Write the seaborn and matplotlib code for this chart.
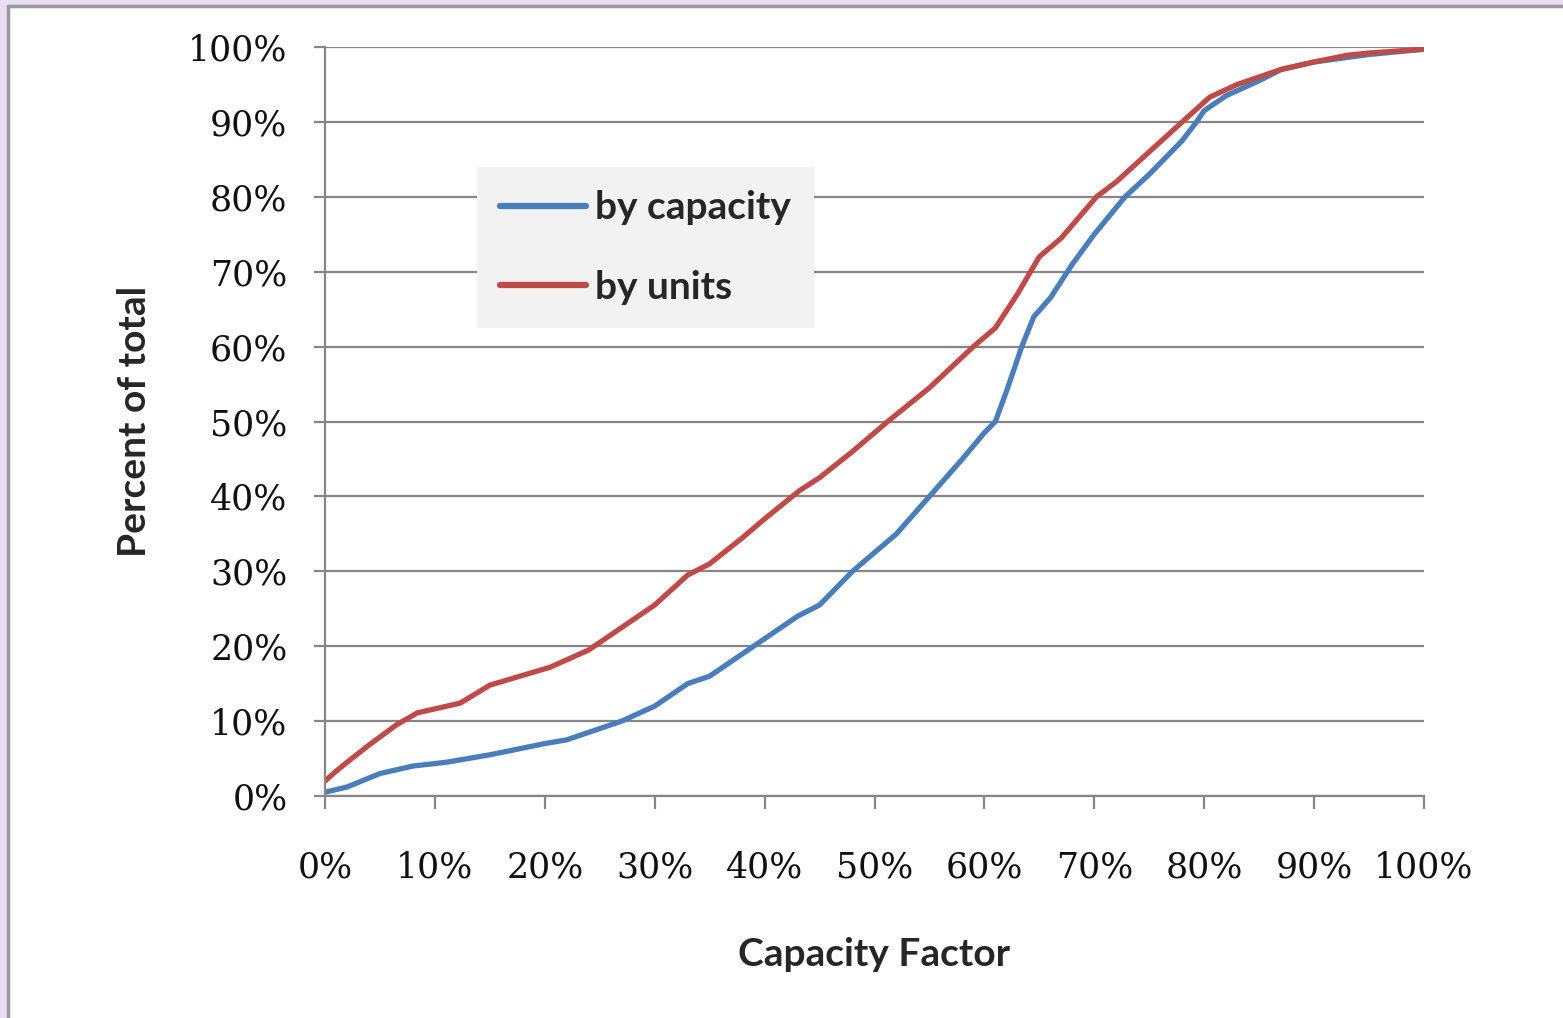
import numpy as np
import pandas as pd
import matplotlib
matplotlib.use("Agg")
import matplotlib.pyplot as plt
import matplotlib.patches as mpatches
from matplotlib.ticker import PercentFormatter
import seaborn as sns

# ── Data ────────────────────────────────────────────────────────────────
cap_factor_capacity = [0, 2, 5, 8, 11, 15, 20, 22, 25, 27, 30, 33, 35, 38, 40,
                       43, 45, 48, 50, 52, 55, 58, 60, 61, 62, 63.4, 64.5, 66,
                       68, 70, 72.8, 75, 78, 79.3, 80, 82, 85, 87, 90, 95, 100]
pct_capacity = [0.5, 1.2, 3, 4, 4.5, 5.5, 7, 7.5, 9, 10, 12, 15, 16, 19, 21,
                24, 25.5, 30, 32.5, 35, 40, 45, 48.5, 50, 54, 60, 64, 66.5,
                71, 75, 80, 83, 87.5, 90, 91.5, 93.5, 95.5, 97, 98, 99, 99.7]

cap_factor_units = [0, 1, 2, 4, 6.5, 8.4, 12.3, 15, 20.5, 24, 27, 30, 33, 35,
                    38, 40, 43.2, 45, 48, 51.2, 55, 59, 61, 63, 65, 67, 70.2,
                    72, 75, 78, 80.5, 83, 87, 90, 93, 95, 100]
pct_units = [2, 3.3, 4.5, 6.8, 9.5, 11.1, 12.4, 14.8, 17.2, 19.5, 22.5, 25.5,
             29.5, 31, 34.5, 37, 40.8, 42.5, 46, 50, 54.5, 60, 62.5, 67, 72,
             74.5, 80, 82, 86, 90, 93.3, 95, 97, 98, 98.9, 99.2, 99.7]

series_names = ["by capacity", "by units"]
series_colors = ["#4A7EBB", "#BE4B48"]

df = pd.concat([
    pd.DataFrame({"cf": cap_factor_capacity, "pct": pct_capacity,
                  "series": series_names[0]}),
    pd.DataFrame({"cf": cap_factor_units, "pct": pct_units,
                  "series": series_names[1]}),
])

# ── Figure ───────────────────────────────────────────────────────────────
sns.set_style("white")
fig = plt.figure(figsize=(15.63, 10.18), dpi=100)
fig.patch.set_facecolor("#E6E0F2")
fig.patches.append(mpatches.Rectangle(
    (8 / 1563, 0), 1 - 8 / 1563, 1 - 6 / 1018, transform=fig.transFigure,
    facecolor="white", edgecolor="none", zorder=-10))
fig.lines.append(plt.Line2D([8 / 1563, 8 / 1563], [0, 1 - 6 / 1018],
                            transform=fig.transFigure, color="#9A9A9A",
                            lw=2.5, zorder=-5))
fig.lines.append(plt.Line2D([8 / 1563, 1], [1 - 6 / 1018, 1 - 6 / 1018],
                            transform=fig.transFigure, color="#9A9A9A",
                            lw=2.5, zorder=-5))

ax = fig.add_axes([325 / 1563, 1 - 796 / 1018, 1099 / 1563, 749 / 1018])
ax.set_facecolor("none")

sns.lineplot(data=df, x="cf", y="pct", hue="series", palette=series_colors,
             hue_order=series_names, linewidth=3.8, ax=ax, sort=False,
             estimator=None)

ax.set_xlim(0, 100)
ax.set_ylim(0, 100)
ax.set_xticks(np.arange(0, 101, 10))
ax.set_yticks(np.arange(0, 101, 10))
ax.xaxis.set_major_formatter(PercentFormatter(decimals=0))
ax.yaxis.set_major_formatter(PercentFormatter(decimals=0))
ax.grid(axis="y", color="#868686", linewidth=1.6)
ax.set_axisbelow(True)

for side in ["top", "right"]:
    ax.spines[side].set_visible(False)
for side in ["left", "bottom"]:
    ax.spines[side].set_color("#868686")
    ax.spines[side].set_linewidth(1.6)

ax.tick_params(axis="x", direction="out", length=9, width=1.6,
               color="#868686", pad=30, bottom=True)
ax.tick_params(axis="y", direction="out", length=8, width=1.6,
               color="#868686", pad=19, left=True)
for lbl in ax.get_xticklabels() + ax.get_yticklabels():
    lbl.set_fontfamily("DejaVu Serif")
    lbl.set_fontsize(25)
    lbl.set_color("#111111")

ax.set_xlabel("Capacity Factor", fontfamily="Lato", fontweight="bold",
              fontsize=28, labelpad=38)
ax.set_ylabel("Percent of total", fontfamily="Lato", fontweight="bold",
              fontsize=28, labelpad=26)

leg = ax.legend(loc="upper left", bbox_to_anchor=(0.138, 0.84),
                frameon=True, fancybox=False, handlelength=2.2,
                labelspacing=1.15, borderpad=0.6, handletextpad=0.25,
                borderaxespad=0,
                prop=dict(family="Lato", weight="bold", size=28))
leg.get_frame().set_facecolor("#F2F2F2")
leg.get_frame().set_edgecolor("none")
leg.get_frame().set_alpha(1)
for line in leg.get_lines():
    line.set_linewidth(4.5)

fig.savefig("out.png", dpi=100, facecolor=fig.get_facecolor())
